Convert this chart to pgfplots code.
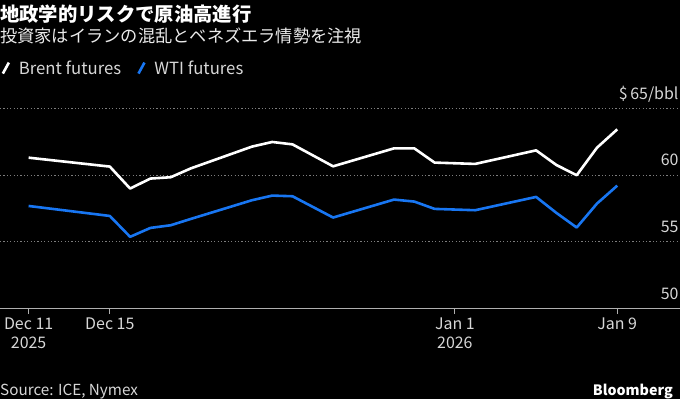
\documentclass[border=0pt]{standalone}
\usepackage{pgfplots}
\pgfplotsset{compat=1.18}
\usepackage{fontspec}
\setmainfont{Noto Sans CJK JP}
\definecolor{wtiblue}{RGB}{24,118,242}
\definecolor{gridgray}{RGB}{125,125,125}
\definecolor{axgray}{RGB}{175,175,175}
\definecolor{lblgray}{RGB}{215,215,215}
\pgfplotstableread{
day brent
0 61.30
4 60.63
5 58.98
6 59.73
7 59.83
8 60.50
11 62.13
12 62.48
13 62.30
15 60.65
18 62.00
19 62.00
20 60.93
22 60.83
25 61.85
26 60.75
27 59.98
28 62.05
29 63.43
}\brenttable
\pgfplotstableread{
day wti
0 57.67
4 56.92
5 55.35
6 56.02
7 56.22
8 56.70
11 58.10
12 58.45
13 58.40
15 56.80
18 58.15
19 58.00
20 57.45
22 57.35
25 58.35
26 57.15
27 56.05
28 57.85
29 59.20
}\wtitable
\begin{document}
\begin{tikzpicture}
\fill[black] (0bp,0bp) rectangle (680bp,399bp);
\begin{axis}[
  at={(0bp,91bp)}, anchor=south west,
  width=680bp, height=219.5bp, scale only axis,
  xmin=-1.41, xmax=32.09, ymin=50, ymax=66.5,
  axis x line*=bottom, axis y line*=right,
  axis line style={-},
  x axis line style={axgray, line width=0.8bp},
  y axis line style={draw=none},
  xtick={0,4,21,29},
  xticklabels={{Dec 11\\2025},{Dec 15},{Jan 1\\2026},{Jan 9}},
  xticklabel style={align=center, text=lblgray, font=\fontsize{16}{19}\selectfont},
  major tick length=6bp, tick align=outside,
  xtick style={axgray, line width=0.8bp},
  ytick={50,55,60,65},
  yticklabels={50,55,60,{\$\,65/bbl}},
  ytick style={draw=none},
  yticklabel style={anchor=base east, yshift=9bp, xshift=-4bp, text=lblgray, font=\fontsize{16}{19}\selectfont},
  /pgf/number format/assume math mode=true,
  ymajorgrids,
  major grid style={gridgray, dash pattern=on 1.2bp off 2.2bp, line width=0.8bp},
  legend style={at={(axis description cs:0.002,1.093)}, anchor=west, draw=none, fill=none,
    text=lblgray, font=\fontsize{16.8}{19}\selectfont, legend columns=2,
    inner xsep=0pt, inner ysep=0pt,
    /tikz/every even column/.append style={column sep=14bp}},
  legend cell align=left,
  legend image code/.code={\draw[#1, line width=2.6bp] (0bp,-5.5bp) -- (6bp,5.5bp); \path[draw=none] (0bp,0bp) -- (14bp,0bp);},
]
\addplot[white, line width=2.6bp, line join=round] table[x=day, y=brent] {\brenttable};
\addlegendentry{Brent futures}
\addplot[wtiblue, line width=2.6bp, line join=round] table[x=day, y=wti] {\wtitable};
\addlegendentry{WTI futures}
\end{axis}
\node[anchor=base west, inner sep=0pt, text=white, font=\fontsize{19.4}{22}\selectfont\bfseries] at (0bp,377bp) {地政学的リスクで原油高進行};
\node[anchor=base west, inner sep=0pt, text=white!92!black, font=\fontsize{17.3}{20}\selectfont] at (0bp,356bp) {投資家はイランの混乱とベネズエラ情勢を注視};
\node[anchor=base west, inner sep=0pt, text=lblgray, font=\fontsize{15.3}{18}\selectfont] at (0bp,4bp) {Source: ICE, Nymex};
\node[anchor=base east, inner sep=0pt, text=white, font=\fontsize{14.3}{17}\selectfont\bfseries] at (673bp,4bp) {Bloomberg};
\pgfresetboundingbox
\useasboundingbox (0bp,0bp) rectangle (680bp,399bp);
\end{tikzpicture}
\end{document}
